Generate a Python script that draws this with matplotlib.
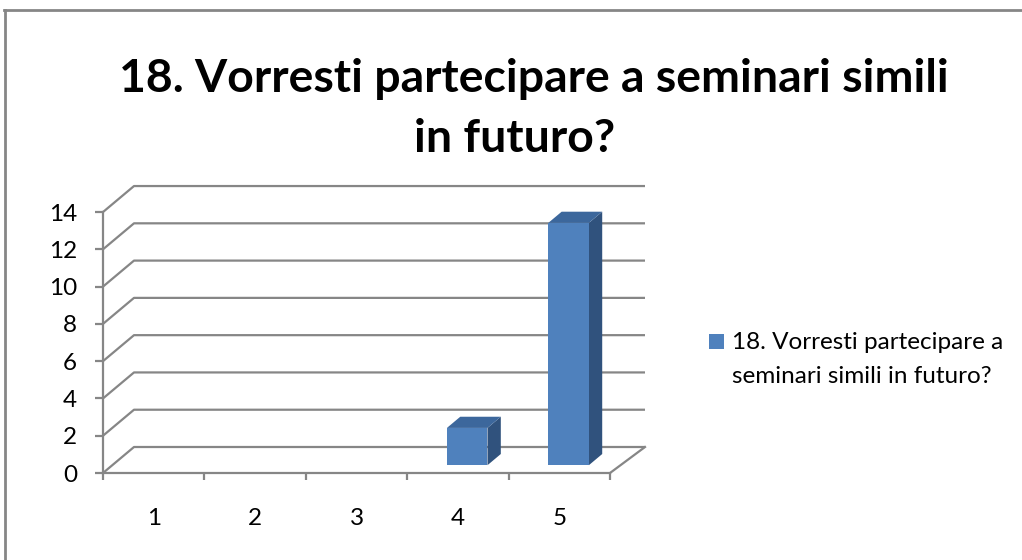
import matplotlib
matplotlib.use('Agg')
import matplotlib.pyplot as plt
from matplotlib.patches import Polygon, Rectangle
from matplotlib.lines import Line2D

categories = ['1', '2', '3', '4', '5']
values = [0, 0, 0, 2, 13]
yticks = [0, 2, 4, 6, 8, 10, 12, 14]
title_lines = ['18. Vorresti partecipare a seminari simili', 'in futuro?']
legend_lines = ['18. Vorresti partecipare a', 'seminari simili in futuro?']

W, H = 1022, 560
fig = plt.figure(figsize=(W / 100, H / 100), dpi=100)
FONT = 'Lato'
GRID = '#868686'
FRONT = '#4F81BD'
TOP = '#3C679C'
SIDE = '#30527D'

# axes geometry (pixels)
x0_px, x1_px = 103, 660
ytop_px, ybot_px = 170, 473
cat_px = 101.4
unit_px = 18.64
ax = fig.add_axes([x0_px / W, 1 - ybot_px / H, (x1_px - x0_px) / W, (ybot_px - ytop_px) / H])
ax.set_xlim(0.5, 0.5 + (x1_px - x0_px) / cat_px)
ax.set_ylim(0, (ybot_px - ytop_px) / unit_px)
ax.patch.set_alpha(0)
DX = 31 / cat_px
DY = 26 / unit_px
EXT = 4 / cat_px
n = len(categories)
xmin, xmax = 0.5, n + 0.5

# back wall gridlines with side-wall diagonals
for v in yticks:
    ax.plot([xmin, xmin + DX, xmax + DX + EXT], [v, v + DY, v + DY], color=GRID, lw=1.6,
            clip_on=False, zorder=1, solid_capstyle='butt')
# floor right edge
ax.plot([xmax, xmax + DX + EXT], [0, DY], color=GRID, lw=1.6, clip_on=False, zorder=1)

# bars
f = 0.3
bw = 0.4
d = 0.43
for i, v in enumerate(values):
    if v <= 0:
        continue
    c = i + 1
    xl = c - bw / 2 + f * DX
    xr = xl + bw
    yb = f * DY
    yt = yb + v
    ox, oy = d * DX, d * DY
    ax.add_patch(Polygon([(xr, yb), (xr + ox, yb + oy), (xr + ox, yt + oy), (xr, yt)],
                         closed=True, facecolor=SIDE, edgecolor='none', zorder=3, clip_on=False))
    ax.add_patch(Polygon([(xl, yt), (xr, yt), (xr + ox, yt + oy), (xl + ox, yt + oy)],
                         closed=True, facecolor=TOP, edgecolor='none', zorder=3, clip_on=False))
    ax.add_patch(Rectangle((xl, yb), bw, v, facecolor=FRONT, edgecolor='none', zorder=4, clip_on=False))

# axes spines and ticks
for s in ['top', 'right']:
    ax.spines[s].set_visible(False)
ax.spines['left'].set_bounds(0, max(yticks))
ax.spines['bottom'].set_bounds(xmin, xmax)
for s in ['left', 'bottom']:
    ax.spines[s].set_color(GRID)
    ax.spines[s].set_linewidth(1.6)
    ax.spines[s].set_zorder(5)

TICKSIZE = 17.5
ax.set_yticks(yticks)
ax.set_yticklabels([str(t) for t in yticks])
ax.tick_params(axis='y', direction='out', length=5.8, width=1.6, color=GRID, pad=13,
               labelsize=TICKSIZE, labelcolor='black')
ax.set_xticks([xmin + k for k in range(n + 1)])
ax.set_xticklabels([''] * (n + 1))
ax.tick_params(axis='x', which='major', direction='out', length=5, width=1.6, color=GRID)
ax.set_xticks(list(range(1, n + 1)), minor=True)
ax.set_xticklabels(categories, minor=True)
ax.tick_params(axis='x', which='minor', length=0, pad=25, labelsize=TICKSIZE, labelcolor='black')
for lab in ax.get_xticklabels(minor=True) + ax.get_yticklabels():
    lab.set_fontfamily(FONT)

# border
fig.add_artist(Line2D([4.5 / W, 4.5 / W], [0, 1 - 9.5 / H], color=GRID, lw=2.0, transform=fig.transFigure))
fig.add_artist(Line2D([3.5 / W, 1], [1 - 9.5 / H, 1 - 9.5 / H], color=GRID, lw=2.0, transform=fig.transFigure))

renderer = fig.canvas.get_renderer()


def px_text(x, y, s, target_w=None, size=20, **kw):
    t = fig.text(x / W, 1 - y / H, s, fontsize=size, fontfamily=FONT, va='baseline', **kw)
    if target_w is not None:
        w = t.get_window_extent(renderer).width
        t.set_fontsize(size * target_w / w)
    return t


# title
t1 = px_text(534, 92, title_lines[0], target_w=828, size=30, ha='center', fontweight='bold')
px_text(515, 152, title_lines[1], size=t1.get_fontsize(), ha='center', fontweight='bold')

# legend
fig.add_artist(Rectangle((709 / W, 1 - 349 / H), 15 / W, 15 / H, transform=fig.transFigure,
                         facecolor=FRONT, edgecolor='none'))
l1 = px_text(732, 349, legend_lines[0], target_w=272, size=15, ha='left')
px_text(732, 383, legend_lines[1], size=l1.get_fontsize(), ha='left')

fig.savefig('out.png', dpi=100)
